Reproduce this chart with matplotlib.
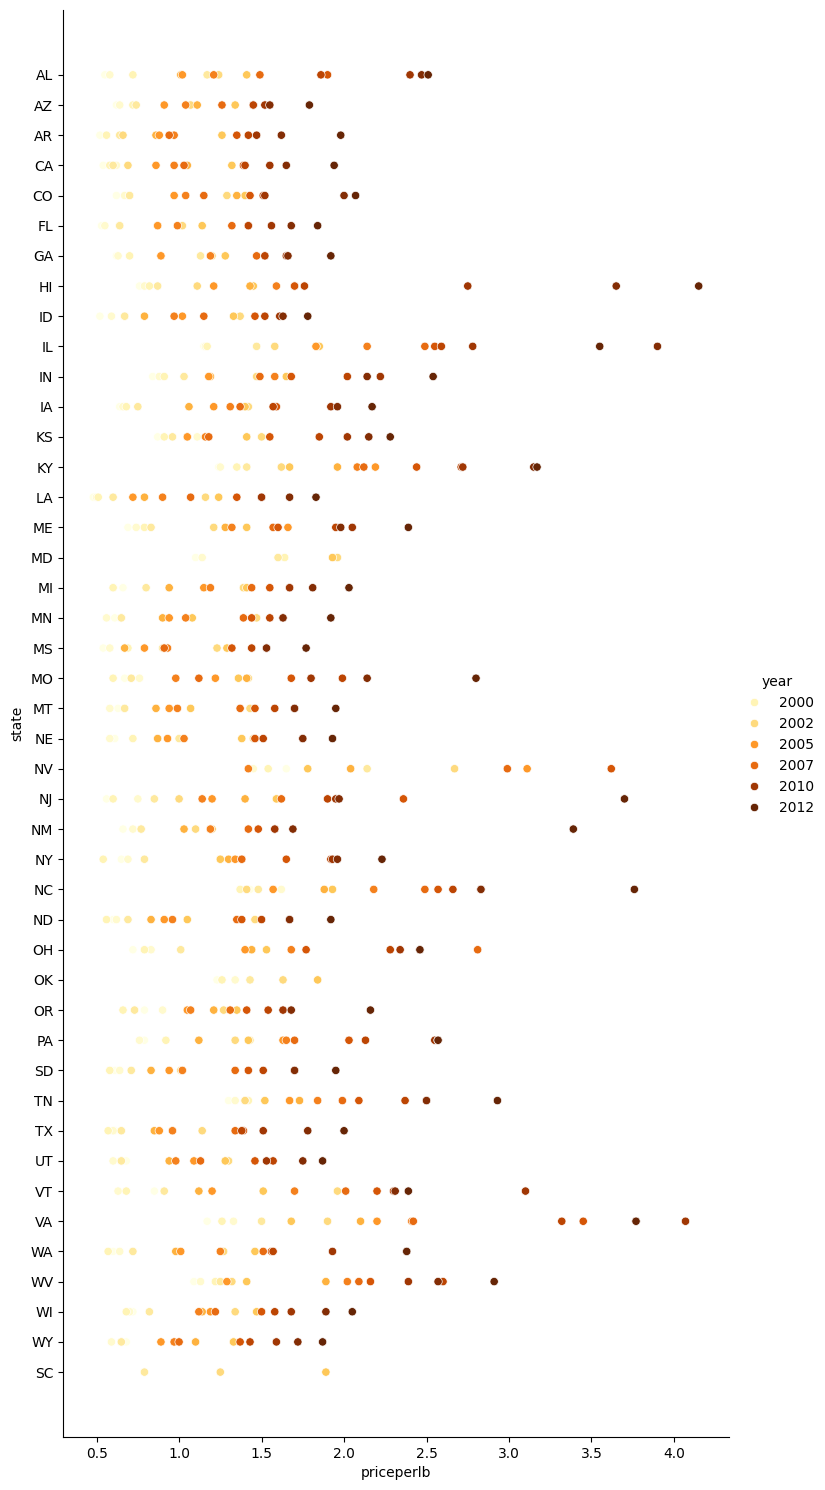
import numpy as np
import pandas as pd
import matplotlib
matplotlib.use('Agg')
import matplotlib.pyplot as plt
import seaborn as sns

nan = np.nan

years = list(range(1998, 2013))

states = ['AL', 'AZ', 'AR', 'CA', 'CO', 'FL', 'GA', 'HI', 'ID', 'IL', 'IN', 'IA',
          'KS', 'KY', 'LA', 'ME', 'MD', 'MI', 'MN', 'MS', 'MO', 'MT', 'NE', 'NV',
          'NJ', 'NM', 'NY', 'NC', 'ND', 'OH', 'OK', 'OR', 'PA', 'SD', 'TN', 'TX',
          'UT', 'VT', 'VA', 'WA', 'WV', 'WI', 'WY', 'SC']

# price per lb, one row per state, columns are 1998..2012
price_rows = [
    [0.55, 0.58, 0.72, 1.17, 1.24, 1.41, 1.01, 1.02, 1.21, 1.49, 1.90, 1.86, 2.40, 2.47, 2.51],  # AL
    [0.62, 0.64, 0.72, 0.74, 1.07, 1.34, 1.11, 0.91, 1.04, 1.26, 1.45, 1.45, 1.52, 1.55, 1.79],  # AZ
    [0.52, 0.56, 0.56, 0.64, 0.66, 1.26, 0.86, 0.88, 0.97, 0.94, 1.35, 1.42, 1.47, 1.62, 1.98],  # AR
    [0.54, 0.62, 0.58, 0.60, 0.69, 1.32, 1.05, 0.86, 0.97, 1.03, 1.39, 1.40, 1.55, 1.65, 1.94],  # CA
    [0.62, 0.67, 0.70, 0.70, 1.29, 1.40, 1.35, 0.97, 1.04, 1.15, 1.43, 1.51, 1.52, 2.00, 2.07],  # CO
    [0.53, 0.55, 0.64, 0.64, 1.02, 1.14, 0.87, 0.87, 0.99, 1.32, 1.42, 1.42, 1.56, 1.68, 1.84],  # FL
    [0.62, 0.63, 0.70, 1.13, 1.20, 1.28, 0.89, 0.89, 1.19, 1.47, 1.52, 1.52, 1.65, 1.66, 1.92],  # GA
    [0.76, 0.79, 0.82, 0.87, 1.11, 1.45, 1.43, 1.21, 1.59, 1.70, 1.70, 1.76, 2.75, 3.65, 4.15],  # HI
    [0.52, 0.59, 0.67, 0.67, 1.37, 1.33, 0.79, 1.02, 0.97, 1.15, 1.46, 1.52, 1.61, 1.63, 1.78],  # ID
    [1.15, 1.16, 1.17, 1.47, 1.58, 1.85, 1.83, 1.83, 2.14, 2.49, 2.55, 2.59, 2.78, 3.90, 3.55],  # IL
    [0.84, 0.88, 0.91, 1.03, 1.47, 1.65, 1.19, 1.18, 1.58, 1.49, 1.68, 2.02, 2.22, 2.14, 2.54],  # IN
    [0.64, 0.66, 0.68, 0.75, 1.42, 1.40, 1.06, 1.21, 1.31, 1.37, 1.59, 1.57, 1.92, 1.96, 2.17],  # IA
    [0.87, 1.11, 0.91, 0.96, 1.50, 1.41, 1.05, 1.05, 1.16, 1.18, 1.55, 1.85, 2.02, 2.15, 2.28],  # KS
    [1.24, 1.25, 1.35, 1.41, 1.62, 1.67, 1.96, 2.19, 2.08, 2.12, 2.44, 2.71, 2.72, 3.15, 3.17],  # KY
    [0.48, 0.50, 0.51, 0.60, 1.16, 1.24, 0.79, 0.72, 0.90, 1.07, 1.35, 1.50, 1.50, 1.67, 1.83],  # LA
    [0.69, 0.74, 0.79, 0.83, 1.21, 1.41, 1.28, 1.66, 1.32, 1.57, 1.60, 1.95, 2.05, 1.98, 2.39],  # ME
    [1.10, 1.14, 1.64, 1.60, 1.96, 1.93, nan, nan, nan, nan, nan, nan, nan, nan, nan],          # MD
    [0.66, 0.60, 0.60, 0.80, 1.39, 1.41, 0.94, 1.15, 1.19, 1.44, 1.55, 1.67, 1.67, 1.81, 2.03],  # MI
    [0.61, 0.56, 0.65, 0.65, 1.47, 1.08, 0.90, 0.94, 1.04, 1.39, 1.44, 1.55, 1.63, 1.63, 1.92],  # MN
    [0.54, 0.58, 0.69, 0.90, 1.23, 1.29, 0.67, 0.79, 0.93, 0.91, 1.32, 1.44, 1.53, 1.53, 1.77],  # MS
    [0.67, 0.76, 0.60, 0.71, 1.42, 1.36, 1.41, 1.22, 0.98, 1.12, 1.68, 1.99, 1.80, 2.14, 2.80],  # MO
    [0.63, 0.58, 0.67, 0.67, 1.43, 1.07, 0.86, 0.94, 0.99, 1.37, 1.46, 1.58, 1.70, 1.70, 1.95],  # MT
    [0.61, 0.58, 0.72, 1.00, 1.45, 1.38, 0.87, 0.93, 1.03, 1.46, 1.46, 1.51, 1.75, 1.75, 1.93],  # NE
    [1.65, 1.45, 1.54, 2.14, 2.67, 1.78, 2.04, 3.11, 1.42, 2.99, 3.62, nan, nan, nan, nan],      # NV
    [0.56, 0.75, 0.60, 0.85, 1.00, 1.59, 1.40, 1.20, 1.14, 1.62, 2.36, 1.90, 1.95, 1.97, 3.70],  # NJ
    [0.66, 0.72, 0.77, 0.77, 1.10, 1.20, 1.03, 1.19, 1.19, 1.42, 1.48, 1.58, 1.58, 1.69, 3.39],  # NM
    [0.65, 0.69, 0.54, 0.79, 1.25, 1.25, 1.30, 1.34, 1.38, 1.38, 1.65, 1.92, 1.93, 1.96, 2.23],  # NY
    [1.43, 1.62, 1.37, 1.48, 1.41, 1.93, 1.88, 1.57, 2.18, 2.49, 2.57, 2.66, 2.83, 2.83, 3.76],  # NC
    [0.60, 0.62, 0.56, 0.69, 1.46, 1.05, 0.83, 0.91, 0.96, 1.35, 1.38, 1.50, 1.67, 1.67, 1.92],  # ND
    [0.72, 0.83, 0.79, 1.01, 1.44, 1.53, 1.44, 1.40, 1.68, 2.81, 1.77, 2.28, 2.34, 2.46, 2.46],  # OH
    [1.23, 1.34, 1.26, 1.43, 1.63, 1.84, nan, nan, nan, nan, nan, nan, nan, nan, nan],          # OK
    [0.79, 0.90, 0.66, 0.73, 1.27, 1.35, 1.21, 1.05, 1.07, 1.31, 1.41, 1.54, 1.63, 1.68, 2.16],  # OR
    [0.79, 0.76, 0.92, 1.43, 1.34, 1.42, 1.12, 1.63, 1.65, 1.70, 2.03, 2.13, 2.55, 2.57, 2.57],  # PA
    [0.61, 0.64, 0.58, 0.71, 1.01, 1.02, 0.83, 0.94, 1.02, 1.34, 1.42, 1.51, 1.70, 1.70, 1.95],  # SD
    [1.30, 1.34, 1.42, 1.40, 1.40, 1.52, 1.73, 1.67, 1.84, 1.99, 2.09, 2.37, 2.50, 2.50, 2.93],  # TN
    [0.61, 0.60, 0.57, 0.65, 1.14, 0.96, 0.85, 0.88, 0.96, 1.34, 1.39, 1.38, 1.51, 1.78, 2.00],  # TX
    [0.68, 0.60, 0.65, 0.65, 1.30, 1.28, 0.94, 1.09, 0.98, 1.13, 1.46, 1.57, 1.53, 1.75, 1.87],  # UT
    [0.85, 0.63, 0.68, 0.91, 1.96, 1.51, 1.12, 1.20, 1.70, 2.01, 2.20, 2.30, 3.10, 2.31, 2.39],  # VT
    [1.17, 1.33, 1.26, 1.50, 1.90, 1.68, 2.10, 2.20, 2.41, 2.42, 3.45, 3.32, 4.07, 3.77, 3.77],  # VA
    [0.60, 0.64, 0.57, 0.72, 1.27, 1.46, 0.98, 1.01, 1.25, 1.51, 1.56, 1.57, 1.93, 2.38, 2.38],  # WA
    [1.09, 1.13, 1.22, 1.25, 1.32, 1.41, 1.89, 1.29, 2.02, 2.09, 2.16, 2.60, 2.39, 2.57, 2.91],  # WV
    [0.72, 0.70, 0.68, 0.82, 1.34, 1.47, 1.14, 1.19, 1.12, 1.22, 1.50, 1.58, 1.68, 1.89, 2.05],  # WI
    [0.68, 0.59, 0.65, 0.65, 1.33, 1.33, 1.10, 0.89, 0.97, 1.00, 1.37, 1.43, 1.59, 1.72, 1.87],  # WY
    [nan, nan, nan, 0.79, 1.25, 1.89, nan, nan, nan, nan, nan, nan, nan, nan, nan],            # SC
]

records = []
for state, row in zip(states, price_rows):
    for year, price in zip(years, row):
        if not np.isnan(price):
            records.append((state, year, price))
honey = pd.DataFrame(records, columns=['state', 'year', 'priceperlb'])

fig = plt.figure(figsize=(8.25, 14.9), dpi=100)
ax = fig.add_axes([0.0764, 0.0356, 0.8072, 0.9577])

sns.scatterplot(data=honey, x='priceperlb', y='state', hue='year',
                palette='YlOrBr', ax=ax)
sns.move_legend(ax, 'center left', bbox_to_anchor=(0.998, 0.485), frameon=False)
sns.despine(ax=ax)

fig.savefig('out.png', dpi=100)
